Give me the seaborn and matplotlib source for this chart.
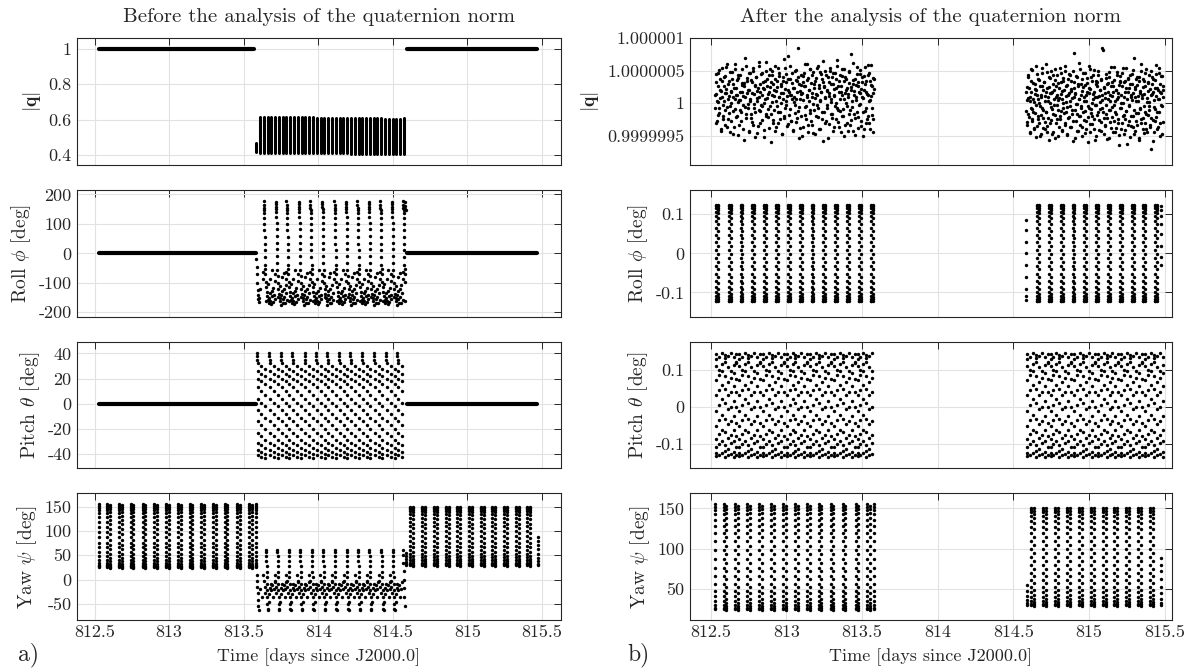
import numpy as np
import pandas as pd
import seaborn as sns
import matplotlib.pyplot as plt
from matplotlib.ticker import FuncFormatter

# ---- data ----
# segment limits [days since J2000.0]
seg_A = [812.53, 813.58]
seg_B = [813.58, 814.585]
seg_C = [814.585, 815.49]

# |q| before: dense columns of samples in segment B
q_cols_t = [813.585, 813.61, 813.635, 813.66, 813.686, 813.711, 813.737, 813.762, 813.787, 813.813,
            813.838, 813.864, 813.889, 813.914, 813.94, 813.965, 813.991, 814.016, 814.041, 814.067,
            814.092, 814.118, 814.143, 814.168, 814.194, 814.219, 814.245, 814.27, 814.295, 814.321,
            814.346, 814.372, 814.397, 814.422, 814.448, 814.473, 814.499, 814.524, 814.549, 814.575]
q_cols_hi = [0.47, 0.615, 0.617, 0.617, 0.616, 0.616, 0.615, 0.615, 0.614, 0.614,
             0.613, 0.613, 0.613, 0.612, 0.612, 0.612, 0.611, 0.611, 0.611, 0.61,
             0.61, 0.61, 0.609, 0.609, 0.609, 0.608, 0.608, 0.608, 0.607, 0.607,
             0.607, 0.606, 0.606, 0.606, 0.605, 0.605, 0.605, 0.604, 0.604, 0.607]
q_cols_lo = [0.415, 0.41, 0.41, 0.41, 0.41, 0.41, 0.41, 0.41, 0.41, 0.41,
             0.41, 0.41, 0.41, 0.41, 0.41, 0.41, 0.41, 0.41, 0.41, 0.41,
             0.41, 0.41, 0.41, 0.41, 0.41, 0.408, 0.408, 0.408, 0.408, 0.408,
             0.408, 0.407, 0.407, 0.407, 0.407, 0.406, 0.406, 0.406, 0.405, 0.405]

# roll before, segment B: one wrap-around column per orbit (two alternating shapes)
roll_B_cols_a = [813.633, 813.787, 813.946, 814.108, 814.262, 814.415, 814.569]
roll_B_cols_b = [813.715, 813.869, 814.026, 814.185, 814.338, 814.492]
roll_B_off = [0.0, 0.001, 0.002, 0.003, 0.004, 0.005, 0.006, 0.006, 0.007, 0.007, 0.008, 0.008, 0.009,
              0.010, 0.012, 0.014, 0.018, 0.022, 0.026, 0.030, 0.034, 0.038, 0.042, 0.046, 0.050,
              0.054, 0.058, 0.062, 0.066, 0.070, 0.074, -0.004, -0.002, 0.016, 0.028, 0.044, 0.056]
roll_B_val_a = [176, 163, 155, 147, 137, 120, 100, 78, 55, 32, 10, -14, -38,
                -52, -70, -96, -113, -131, -146, -158, -168, -151, -136, -161, -172,
                -127, -144, -166, -117, -141, -156, -63, -88, -162, -104, -86, -57]
roll_B_val_b = [174, 166, 157, 149, 139, 124, 104, 82, 58, 36, 14, -10, -33,
                -58, -77, -101, -121, -138, -150, -163, -175, -143, -128, -154, -167,
                -121, -149, -170, -109, -133, -160, -70, -95, -147, -112, -80, -66]
roll_B_extra_t = [813.585, 813.587, 813.59, 813.592, 813.594, 813.596, 813.598, 813.6, 813.605, 813.61,
                  814.583, 814.584, 814.585, 814.586]
roll_B_extra_v = [-20, -45, -70, -100, -125, -140, -155, -165, -150, -120, 175, 160, 152, 148]

# pitch before, segment B: drifting lattice, one tile per orbit
pitch_B_cols = [813.587, 813.672, 813.749, 813.826, 813.908, 813.985, 814.062, 814.138,
                814.215, 814.292, 814.372, 814.454, 814.531]
pitch_B_top = [40, 38, 35]
pitch_B_rows = [[32, 30, 28], [26, 24, 22], [20, 18, 16], [13, 10, 7], [4, 1, -2], [-5, -8, -11],
                [-14, -17, -20], [-23, -26, -29], [-31, -33, -35], [-37, -38, -40], [-41, -42, -43]]
pitch_B_row_off = [0.006, 0.032, 0.058]

# yaw (same samples before and after), segments A and C
yaw_A_cols = [812.595, 812.672, 812.751, 812.831, 812.91, 812.99, 813.069, 813.146, 813.223,
              813.303, 813.382, 813.467, 813.544]
yaw_A_dn = [155, 152, 148, 143, 136, 128, 119, 109, 98, 87, 76, 66, 56, 48, 41, 35, 30, 27, 25]
yaw_A_up = [24, 26, 29, 33, 38, 45, 53, 62, 72, 82, 93, 104, 114, 123, 131, 138, 144, 149, 153]
yaw_A_first_t = 812.527
yaw_A_last_t = 813.583
yaw_C_cols = [814.626, 814.707, 814.785, 814.866, 814.942, 815.023, 815.101, 815.177, 815.255,
              815.336, 815.412]
yaw_C_dn = [150, 148, 145, 140, 134, 127, 119, 110, 100, 90, 80, 70, 61, 53, 46, 40, 35, 32, 30]
yaw_C_up = [29, 31, 34, 38, 43, 49, 57, 66, 75, 85, 95, 105, 115, 124, 132, 138, 143, 147, 150]
yaw_C_start = [55, 48, 42, 37, 33, 30]
yaw_C_start_t = 814.588
yaw_C_end = [30, 33, 38, 45, 53, 62, 72, 80, 88]
yaw_C_end_t = 815.475

# yaw before, segment B
yaw_B_cols = [813.65, 813.726, 813.802, 813.878, 813.957, 814.033, 814.109, 814.19, 814.267,
              814.343, 814.424, 814.5]
yaw_B_off = [0.0, 0.0, 0.001, 0.002, 0.003, 0.004, 0.005, 0.006, 0.007, 0.008, 0.009, 0.010,
             -0.018, -0.014, -0.010, -0.006, 0.014, 0.018, 0.022, 0.026, 0.030, 0.036, 0.042, 0.048,
             0.054, 0.060]
yaw_B_val = [61, 56, 48, 38, 27, 16, 5, -8, -22, -36, -50, -60,
             10, -2, -15, -28, -62, -45, -30, -18, -8, -22, -12, -35, -20, -5]
yaw_B_extra_t = [813.588, 813.59, 813.592, 813.594, 813.596, 813.598, 813.6, 813.61, 813.62,
                 814.565, 814.567, 814.57, 814.572, 814.574, 814.576, 814.578, 814.58]
yaw_B_extra_v = [10, -3, -15, -28, -42, -55, -62, -20, -35, 60, 50, 35, 18, 0, -18, -36, -55]

# |q| after: noise around 1, in units of 1e-8 (two interleaved sample sets per segment)
dq_A = [12, -31, 45, 3, -18, 27, 51, -7, 8, -42, 19, 34, -2, -25, 41, 15, -11, 56, 22, -36, 6, 29, -15, 48,
        -4, 17, -28, 38, 9, -47, 24, 61, -9, 13, -20, 36, 2, 43, -33, 18, 5, -14, 52, 28, -39, 11, 31, -6,
        70, -23, 16, 39, -1, -44, 21, 47, 7, -17, 33, -29, 55, 14, -8, 26, -52, 40, 4, 19, -35, 58, 10, -12,
        30, -3, 46, -26, 23, 1, -41, 35, 63, -16, 8, 27, -21, 44, 17, -5, -60, 32, 12, 50, -30, 20, -10, 37,
        3, -37, 25, 54, -13, 9, 42, -24, 15, 29, -48, 6, 34, 68, -19, 22, -2, 45, 11, -32, 38, 18, -9, 57,
        -27, 13, 31, -43, 24, 2, 49, -15, 36, 7, -22, 41, 85, -6, 19, -38, 28, 14, -50, 33, 5, 47, -18, 26,
        -4, 60, 10, -34, 39, 21, -11, 52, -28, 16, 43, -1, -46, 30, 8, 35, -20, 55, 12, -7, 24, -40, 48, 3,
        18, -25, 37, 65, -14, 27, -31, 9, 44, -3, 20, -53, 32, 15, 50, -17, 6, 40, -23, 29, 11, -36, 46, 1,
        23, -8, 58, -29, 17, 34, -12, -45, 26, 13, 42, -19, 7, 53, -33, 21, 38, -5, 14, -42, 31, 48, -10, 25,
        -26, 4, 36, 62, -16, 19, -49, 28, 9, 45, -21, 33, -2, 16, 51, -35, 22, 40, -13, 8, -39, 30, 56, -7,
        18, -24, 44, 12, -30, 35, 5, 59, -18, 27, -44, 15, 38]
dq_A2 = [-8, 33, 14, -27, 46, 2, -15, 38, 21, -40, 9, 55, -19, 27, 4, -33, 42, 16, -6, 61, -24, 11, 35, -45,
         19, 0, 48, -12, 29, -37, 7, 52, -21, 24, 13, -49, 39, 5, -10, 44, -28, 18, 31, -3, -56, 26, 10, 57,
         -17, 34, -7, 20, -42, 47, 3, -23, 36, 15, -34, 50, -1, 28, -14, 41, 8, -46, 23, 64, -11, 17, -30, 45,
         12, -4, 33, -52, 22, 6, 49, -20, 37, -9, 14, -38, 53, 25, -16, 2, 43, -26, 30, 11, -43, 58, 19, -5,
         35, -31, 9, 46, -13, 27, 1, -48, 40, 16, -22, 54, -8, 32, 4, -35, 21, 72, -18, 13, 38, -27, 6, 47,
         -41, 24, 10, -3, 51, -29, 18, 34, -12, -54, 29, 7, 44, -19, 15, -36, 42, 26, -6, 60, -24, 12, 36, -45,
         20, 3, 53, -15, 31, -33, 9, 48, -10, 23, -47, 39, 14, -2, 57, -21, 28, 5, -39, 45, 17, -13, 33, -58,
         25, 8, 50, -28, 19, -7, 41, 11, -32, 55, 2, 30, -17, 46, -42, 22, 13, -4, 37, -25, 66, -11, 27, -37,
         6, 43, 18, -20, 52, -9, 34, -50, 15, 40, 1, -30, 24, 10, -16, 49, -34, 20, 76, -6, 29, -43, 12, 38,
         -23, 5, 56, -14, 26, -38, 17, 45, -1, -27, 32, 9, -51, 42, 21, -12, 35, -31, 14, 59, -19, 3, 47, -40,
         28, 11, -8, 39, -24, 22]
dq_C = [-12, 25, -33, 8, 44, -21, 3, -46, 17, 52, -9, -28, 31, 6, -40, 22, -15, 57, -3, -35, 13, 38, -24, 1,
        -51, 27, 9, -18, 46, -7, 20, -38, 33, -29, 11, 60, -13, -44, 24, 4, -22, 41, -31, 15, -6, 49, -47, 18,
        30, -16, -2, 36, -54, 10, 26, -25, 43, -11, 5, -36, 55, -20, 14, 32, -42, 7, -8, 39, 21, -30, 50, -14,
        2, -49, 28, 12, -23, 45, -4, -37, 19, 35, -17, 8, -58, 23, 78, -10, 16, -27, 42, -1, -43, 29, 6, -19,
        53, -33, 13, -5, 37, -50, 25, 10, -26, 47, -12, 3, -39, 31, 18, -21, 58, -7, -45, 22, 40, -15, 0, -32,
        14, 51, -24, 9, -56, 34, -3, 27, -18, 44, -41, 11, 20, -9, 36, -29, 5, 85, -14, -48, 24, 15, -35, 39,
        -2, 30, -22, 7, -53, 48, 12, -11, 26, -38, 33, -6, 17, -27, 56, -44, 4, 21, -16, 43, -31, 9, -65, 28,
        35, -8, 13, -40, 46, -19, 1, -47, 32, 18, -25, 54, -12, 6, -34, 38, 23, -3, -52, 29, 10, -20, 45, -36,
        16, 70, -10, -42, 25, 3, -28, 41, -15, 11, -57, 34, 19, -7, 49, -30, 8, -23, 37, -46, 14, 27, -13, 52,
        -39, 2, 31, -18, 44, -5, -33, 22, 12, -70, 40, -26, 17, 5, -45, 36, -9, 59, -21, 24, -37, 7, 47, -14,
        30, -50, 15, 42, -4, -29, 20]
dq_C2 = [17, -29, 5, 40, -16, 23, -44, 9, 34, -7, -25, 51, -13, 2, -38, 29, 14, -52, 20, 45, -19, 7, -31, 36,
         -4, 12, -47, 26, 55, -10, -22, 33, 3, -40, 18, -14, 48, -35, 10, 25, -57, 1, 39, -26, 15, -9, 43, -45,
         21, 6, -18, 53, -30, 13, -3, 31, -50, 24, 8, -24, 46, -12, 19, -41, 35, 0, -15, 58, -33, 11, 27, -6,
         -48, 38, 16, -21, 4, 44, -37, 22, -11, 50, -28, 9, 32, -54, 14, -1, 41, -17, 26, -43, 7, 62, -20, 30,
         -8, -36, 19, 47, -13, 3, -46, 28, 12, -27, 39, -5, -60, 24, 15, -32, 52, -9, 35, -19, 6, 43, -39, 17,
         -2, 29, -51, 33, 10, -14, 49, -26, 21, 2, -42, 37, -7, 13, 82, -23, 25, -34, 8, 45, -16, -55, 31, 18,
         -10, 40, -29, 4, 56, -21, 11, -44, 27, -3, 36, -13, 20, -38, 48, 7, -25, 15, -49, 32, 42, -8, 1, -31,
         26, 54, -18, 9, -41, 34, -12, 23, -62, 17, 39, -5, -28, 44, 13, -35, 5, 30, -20, 51, -47, 22, 10, -15,
         37, -33, 28, 3, -53, 41, -9, 16, 60, -24, 12, -39, 25, 35, -4, -30, 47, -17, 8, -45, 19, 33, -11, 2,
         -36, 50, -22, 14, 29, -58, 38, -6, 24, -27, 11, 45, -14, -40, 21, 6, 55, -31, 18, -2, 42, -48, 27, 9]

# roll after: one column per orbit
roll_A_cols = [812.545, 812.627, 812.705, 812.783, 812.862, 812.94, 813.018, 813.096, 813.174,
               813.252, 813.33, 813.408, 813.486, 813.564]
roll_C_cols = [814.664, 814.742, 814.82, 814.898, 814.976, 815.054, 815.132, 815.21, 815.288,
               815.366, 815.444]
roll_dn = [0.123, 0.12, 0.115, 0.107, 0.096, 0.082, 0.066, 0.048, 0.028, 0.008,
           -0.012, -0.032, -0.052, -0.07, -0.086, -0.1, -0.11, -0.117, -0.121, -0.123]
roll_up = [-0.122, -0.118, -0.112, -0.104, -0.092, -0.077, -0.06, -0.041, -0.021, -0.001,
           0.019, 0.039, 0.058, 0.075, 0.09, 0.102, 0.111, 0.117, 0.121, 0.124]
roll_C_start = [0.085, 0.06, 0.03, 0.0, -0.03, -0.06, -0.09, -0.11, -0.12]
roll_C_start_t = 814.587
roll_C_end = [0.12, 0.11, 0.095, 0.075, 0.05, 0.02, -0.01, -0.03]
roll_C_end_t = 815.478

# pitch after: lattice tile spanning two orbits (None = no sample at that slot)
pitch_A_cols = [812.53, 812.686, 812.842, 812.998, 813.154, 813.31, 813.466]
pitch_C_cols = [814.585, 814.741, 814.897, 815.053, 815.209, 815.365]
pitch_row_off = [0.005, 0.024, 0.044, 0.063, 0.083, 0.102, 0.122, 0.141]
pitch_rows = [
    [0.143, None, 0.145, 0.140, None, 0.144, None, 0.142],
    [0.128, 0.134, None, 0.131, 0.137, None, 0.133, 0.121],
    [0.110, 0.100, 0.115, 0.120, 0.106, 0.096, 0.112, 0.118],
    [0.072, 0.085, 0.095, 0.082, 0.066, 0.078, 0.090, 0.075],
    [0.030, 0.045, 0.058, 0.048, 0.032, 0.040, 0.055, 0.038],
    [-0.012, 0.004, 0.020, 0.010, -0.006, 0.000, 0.016, -0.002],
    [-0.052, -0.036, -0.022, -0.034, -0.048, -0.040, -0.026, -0.044],
    [-0.088, -0.074, -0.062, -0.070, -0.084, -0.078, -0.064, -0.080],
    [-0.110, -0.100, -0.094, -0.104, -0.114, -0.098, -0.092, -0.108],
    [-0.124, None, -0.126, -0.120, None, -0.128, -0.122, None],
    [-0.133, -0.130, None, -0.135, -0.131, None, -0.136, -0.132],
]

x_ticks = [812.5, 813, 813.5, 814, 814.5, 815, 815.5]


def tile(starts, offs, vals, t_end=None):
    t, y = [], []
    for c in starts:
        for o, v in zip(offs, vals):
            if v is None:
                continue
            if t_end is None or c + o <= t_end:
                t.append(c + o)
                y.append(v)
    return t, y


def pair_cols(starts, dn, up, half):
    offs = [-half] * len(dn) + [half] * len(up)
    return tile(starts, offs, dn + up)


def lattice(starts, rows, row_off, t_end):
    offs = [o for r in rows for o in row_off]
    vals = [v for r in rows for v in r]
    return tile(starts, offs, vals, t_end)


# ---- build point sets ----
yaw_t, yaw_v = pair_cols(yaw_A_cols, yaw_A_dn, yaw_A_up, 0.009)
yaw_t += [yaw_A_first_t] * len(yaw_A_dn) + [yaw_A_last_t] * len(yaw_A_dn)
yaw_v += yaw_A_dn + yaw_A_dn
t2, v2 = pair_cols(yaw_C_cols, yaw_C_dn, yaw_C_up, 0.009)
yaw_t += t2 + [yaw_C_start_t] * len(yaw_C_start) + [yaw_C_end_t] * len(yaw_C_end)
yaw_v += v2 + yaw_C_start + yaw_C_end

yawB_t, yawB_v = tile(yaw_B_cols, yaw_B_off, yaw_B_val, seg_B[1])
yawB_t += yaw_B_extra_t
yawB_v += yaw_B_extra_v

rollB_t, rollB_v = tile(roll_B_cols_a, roll_B_off, roll_B_val_a, seg_B[1])
t2, v2 = tile(roll_B_cols_b, roll_B_off, roll_B_val_b, seg_B[1])
rollB_t += t2 + roll_B_extra_t
rollB_v += v2 + roll_B_extra_v

pB_t, pB_v = lattice(pitch_B_cols, pitch_B_rows, pitch_B_row_off, seg_B[1])
t2, v2 = tile(pitch_B_cols, [0.0, 0.0, 0.002], pitch_B_top)
pB_t += t2
pB_v += v2

rollR_t, rollR_v = pair_cols(roll_A_cols + roll_C_cols, roll_dn, roll_up, 0.006)
rollR_t += [roll_C_start_t] * len(roll_C_start) + [roll_C_end_t] * len(roll_C_end)
rollR_v += roll_C_start + roll_C_end

pR_t, pR_v = lattice(pitch_A_cols, pitch_rows, pitch_row_off, seg_A[1])
t2, v2 = lattice(pitch_C_cols, pitch_rows, pitch_row_off, seg_C[1])
pR_t += t2
pR_v += v2

qR_t, qR_v = [], []
for seg, dq in [(seg_A, dq_A), (seg_A, dq_A2), (seg_C, dq_C), (seg_C, dq_C2)]:
    qR_t += list(np.linspace(seg[0], seg[1], len(dq)))
    qR_v += [1 + d * 1e-8 for d in dq]

# ---- style ----
sns.set_style("white")
plt.rcParams["font.family"] = "serif"
plt.rcParams["font.serif"] = ["cmr10"]
plt.rcParams["mathtext.fontset"] = "cm"
plt.rcParams["axes.unicode_minus"] = False
plt.rcParams["axes.formatter.useoffset"] = False

ink = "#262626"
fig = plt.figure(figsize=(11.85, 6.69), dpi=100)

left_x, left_w = 76.5 / 1185, 484.1 / 1185
right_x, right_w = 689.5 / 1185, 482 / 1185
row_b = [0.7534, 0.5266, 0.2998, 0.0731]
row_h = 0.1894

axL = [fig.add_axes([left_x, b, left_w, row_h]) for b in row_b]
axR = [fig.add_axes([right_x, b, right_w, row_h]) for b in row_b]

fmt = FuncFormatter(lambda v, _: f"{v:g}")


def dots(ax, t, v):
    sns.scatterplot(x=t, y=v, ax=ax, s=6, color="k", linewidth=0, edgecolor=None, legend=False)


def flat(ax, t0, t1, v):
    sns.lineplot(x=[t0, t1], y=[v, v], ax=ax, color="k", lw=3.0, solid_capstyle="round")


# left column: before
ax = axL[0]
flat(ax, 812.53, 813.57, 1)
flat(ax, 814.595, 815.47, 1)
ax.vlines(q_cols_t, q_cols_lo, q_cols_hi, color="k", lw=2.2, capstyle="round")
ax.set_ylim(0.344, 1.058)
ax.set_yticks([0.4, 0.6, 0.8, 1])
ax.set_ylabel(r"$|\mathbf{q}|$")
ax.set_title("Before the analysis of the quaternion norm", fontsize=15, color=ink, pad=12)

ax = axL[1]
flat(ax, 812.53, 813.58, 0)
flat(ax, 814.595, 815.47, 0)
dots(ax, rollB_t, rollB_v)
ax.set_ylim(-215, 215)
ax.set_yticks([-200, -100, 0, 100, 200])
ax.set_ylabel(r"Roll $\phi$ [deg]")

ax = axL[2]
flat(ax, 812.53, 813.58, 0)
flat(ax, 814.595, 815.47, 0)
dots(ax, pB_t, pB_v)
ax.set_ylim(-51.4, 49.3)
ax.set_yticks([-40, -20, 0, 20, 40])
ax.set_ylabel(r"Pitch $\theta$ [deg]")

ax = axL[3]
dots(ax, yaw_t, yaw_v)
dots(ax, yawB_t, yawB_v)
ax.set_ylim(-83, 177)
ax.set_yticks([-50, 0, 50, 100, 150])
ax.set_ylabel(r"Yaw $\psi$ [deg]")

# right column: after
ax = axR[0]
dots(ax, qR_t, qR_v)
ax.set_ylim(0.99999905, 1.000001)
ax.set_yticks([0.9999995, 1.0, 1.0000005, 1.000001])
ax.set_yticklabels(["0.9999995", "1", "1.0000005", "1.000001"])
ax.set_ylabel(r"$|\mathbf{q}|$")
ax.set_title("After the analysis of the quaternion norm", fontsize=15, color=ink, pad=12)

ax = axR[1]
dots(ax, rollR_t, rollR_v)
ax.set_ylim(-0.162, 0.162)
ax.set_yticks([-0.1, 0, 0.1])
ax.set_ylabel(r"Roll $\phi$ [deg]")

ax = axR[2]
dots(ax, pR_t, pR_v)
ax.set_ylim(-0.167, 0.175)
ax.set_yticks([-0.1, 0, 0.1])
ax.set_ylabel(r"Pitch $\theta$ [deg]")

ax = axR[3]
dots(ax, yaw_t, yaw_v)
ax.set_ylim(11.6, 168.6)
ax.set_yticks([50, 100, 150])
ax.set_ylabel(r"Yaw $\psi$ [deg]")

for ax in axL + axR:
    ax.set_xlim((812.379, 815.625) if ax in axL else (812.361, 815.545))
    ax.set_xticks(x_ticks)
    ax.xaxis.set_major_formatter(fmt)
    if ax is not axR[0]:
        ax.yaxis.set_major_formatter(fmt)
    ax.grid(True, color="#e2e2e2", lw=0.8)
    ax.set_axisbelow(True)
    ax.tick_params(direction="in", top=True, right=True, length=5, width=0.7,
                   colors=ink, labelsize=13)
    ax.yaxis.label.set_color(ink)
    ax.yaxis.label.set_size(14)
    for sp in ax.spines.values():
        sp.set_color(ink)
        sp.set_linewidth(0.8)
    if ax in (axL[3], axR[3]):
        ax.set_xlabel("Time [days since J2000.0]", fontsize=13, color=ink, labelpad=6)
    else:
        ax.tick_params(labelbottom=False)
        ax.set_xlabel("")

fig.text(18 / 1185, 1 - 655 / 669, "a)", fontsize=17, color=ink, va="center")
fig.text(627 / 1185, 1 - 655 / 669, "b)", fontsize=17, color=ink, va="center")

fig.savefig("out.png", dpi=100)
